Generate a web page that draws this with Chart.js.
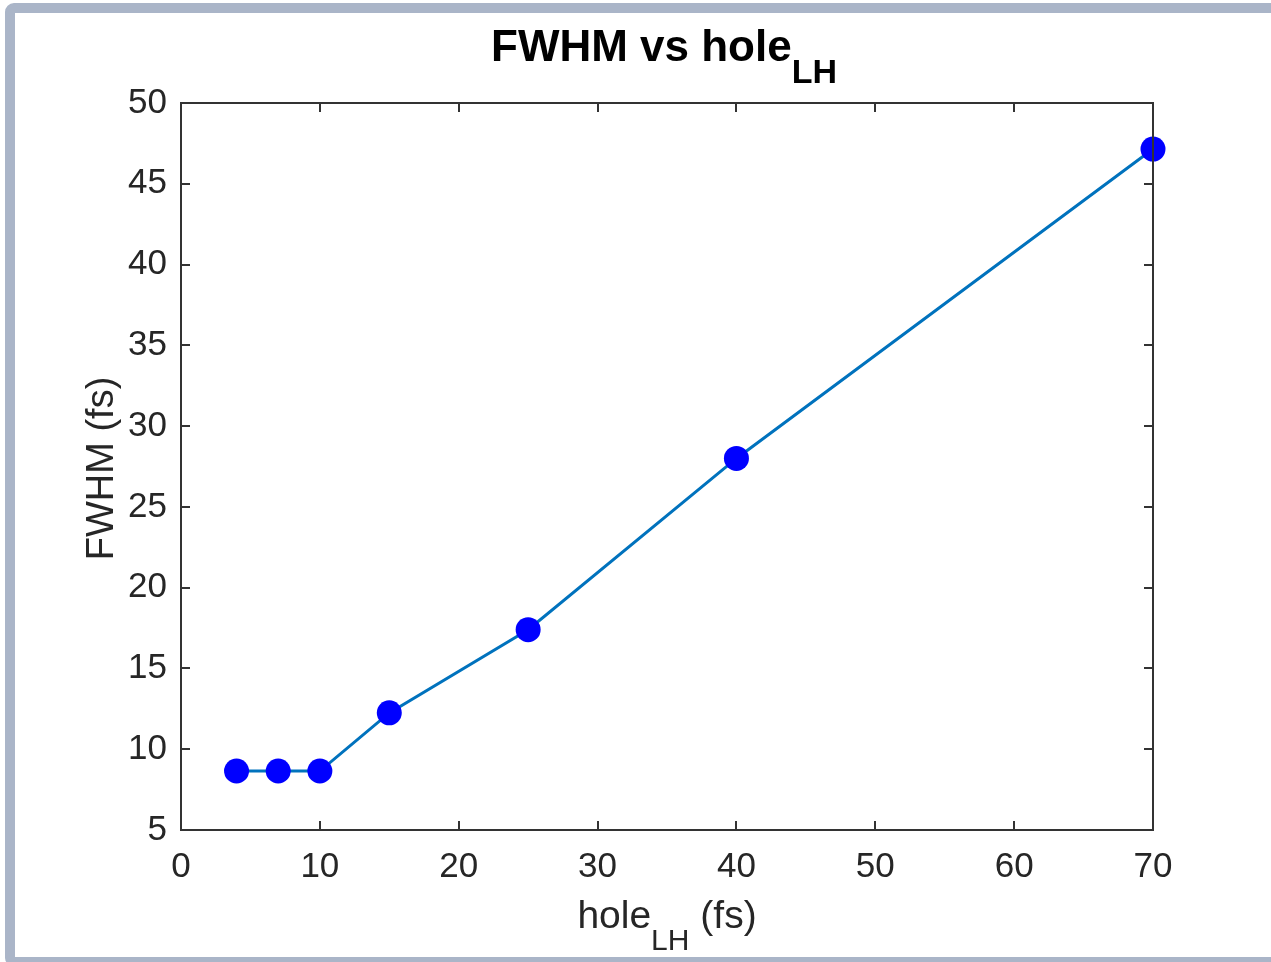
<!DOCTYPE html>
<html>
<head>
<meta charset="utf-8">
<script src="https://cdn.jsdelivr.net/npm/chart.js@4/dist/chart.umd.min.js"></script>
<style>
  html, body { margin: 0; padding: 0; background: #ffffff; width: 1271px; height: 962px; overflow: hidden; }
  #frame { position: absolute; left: 5px; top: 3px; width: 1300px; border: 10px solid #aab5c8; border-radius: 9px; box-sizing: border-box; height: 964px; z-index: 0; }
  #c { position: absolute; left: 0; top: 0; z-index: 1; }
</style>
</head>
<body>
<div id="frame"></div>
<canvas id="c" width="1271" height="962"></canvas>
<script>
// ---- data ----
const holeLH = [4, 7, 10, 15, 25, 40, 70];
const fwhm = [8.65, 8.65, 8.65, 12.25, 17.4, 28.0, 47.15];
const xRange = [0, 70];
const yRange = [5, 50];
const xStep = 10;
const yStep = 5;
const titleMain = 'FWHM vs hole';
const titleSub = 'LH';
const xLabelMain = 'hole';
const xLabelSub = 'LH';
const xLabelTail = ' (fs)';
const yLabel = 'FWHM (fs)';

const FONT = '"Liberation Sans", Helvetica, Arial, sans-serif';
const AXIS = '#333333';

function drawParts(ctx, parts, cx, baseY) {
  let total = 0;
  parts.forEach(p => { ctx.font = p.font; p.w = ctx.measureText(p.text).width; total += p.w; });
  let x = cx - total / 2;
  ctx.textAlign = 'left';
  ctx.textBaseline = 'alphabetic';
  parts.forEach(p => { ctx.font = p.font; ctx.fillText(p.text, x, baseY + (p.dy || 0)); x += p.w; });
}

const matlabPlugin = {
  id: 'matlab',
  afterDraw(chart) {
    const ctx = chart.ctx;
    const a = chart.chartArea;
    const xs = chart.scales.x, ys = chart.scales.y;
    ctx.save();
    // box
    ctx.strokeStyle = AXIS;
    ctx.lineWidth = 2;
    ctx.strokeRect(a.left, a.top, a.right - a.left, a.bottom - a.top);
    // inward ticks
    const tl = 9;
    ctx.beginPath();
    xs.ticks.forEach(t => {
      const px = Math.round(xs.getPixelForValue(t.value));
      ctx.moveTo(px, a.bottom); ctx.lineTo(px, a.bottom - tl);
      ctx.moveTo(px, a.top); ctx.lineTo(px, a.top + tl);
    });
    ys.ticks.forEach(t => {
      const py = Math.round(ys.getPixelForValue(t.value));
      ctx.moveTo(a.left, py); ctx.lineTo(a.left + tl, py);
      ctx.moveTo(a.right, py); ctx.lineTo(a.right - tl, py);
    });
    ctx.stroke();
    // title
    ctx.fillStyle = '#000000';
    drawParts(ctx, [
      { text: titleMain, font: 'bold 44px ' + FONT },
      { text: titleSub, font: 'bold 34px ' + FONT, dy: 22 }
    ], (a.left + a.right) / 2 - 3, 61);
    // x label
    ctx.fillStyle = '#262626';
    drawParts(ctx, [
      { text: xLabelMain, font: '39px ' + FONT },
      { text: xLabelSub, font: '30px ' + FONT, dy: 22 },
      { text: xLabelTail, font: '39px ' + FONT }
    ], (a.left + a.right) / 2, 928);
    // y label
    ctx.save();
    ctx.translate(113, (a.top + a.bottom) / 2 + 2);
    ctx.rotate(-Math.PI / 2);
    ctx.font = '38px ' + FONT;
    ctx.textAlign = 'center';
    ctx.textBaseline = 'alphabetic';
    ctx.fillText(yLabel, 0, 0);
    ctx.restore();
    ctx.restore();
  }
};

new Chart(document.getElementById('c'), {
  type: 'scatter',
  data: {
    datasets: [{
      data: holeLH.map((x, i) => ({ x: x, y: fwhm[i] })),
      showLine: true,
      borderColor: '#0072BD',
      borderWidth: 3,
      pointRadius: 12.5,
      pointHoverRadius: 12.5,
      pointBackgroundColor: '#0000FF',
      pointBorderColor: '#0000FF',
      pointBorderWidth: 0,
      clip: false
    }]
  },
  options: {
    responsive: false,
    animation: false,
    events: [],
    layout: { padding: { left: 0, top: 103, right: 118, bottom: 0 } },
    plugins: { legend: { display: false }, tooltip: { enabled: false }, title: { display: false } },
    scales: {
      x: {
        type: 'linear',
        min: xRange[0], max: xRange[1],
        grid: { display: false, drawTicks: false },
        border: { display: false },
        ticks: { stepSize: xStep, padding: 16, color: '#262626', font: { family: FONT, size: 35 }, maxRotation: 0 },
        afterFit(s) { s.height = 132; }
      },
      y: {
        type: 'linear',
        min: yRange[0], max: yRange[1],
        grid: { display: false, drawTicks: false },
        border: { display: false },
        ticks: { stepSize: yStep, padding: 14, color: '#262626', font: { family: FONT, size: 35 } },
        afterFit(s) { s.width = 181; }
      }
    }
  },
  plugins: [matlabPlugin]
});
</script>
</body>
</html>
